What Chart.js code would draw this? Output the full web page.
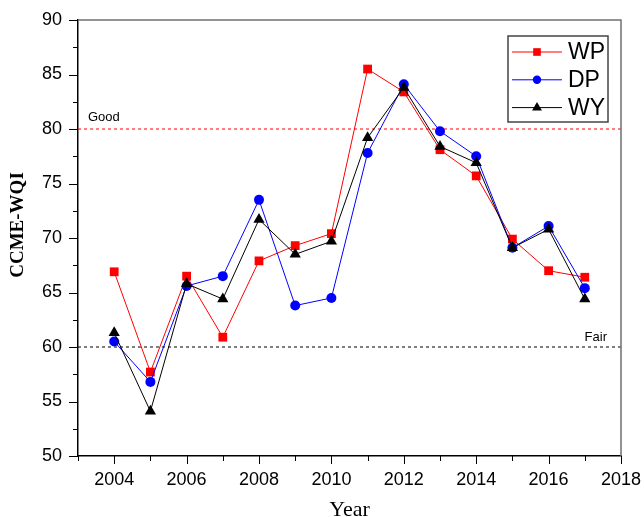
<!DOCTYPE html>
<html>
<head>
<meta charset="utf-8">
<script src="https://cdn.jsdelivr.net/npm/chart.js@4.4.0/dist/chart.umd.min.js"></script>
<style>
  html, body { margin: 0; padding: 0; background: #fff; }
</style>
</head>
<body>
<canvas id="wqiChart" width="644" height="517"></canvas>
<script>
// CCME-WQI by year for the three stations
const years = [2004, 2005, 2006, 2007, 2008, 2009, 2010, 2011, 2012, 2013, 2014, 2015, 2016, 2017];
const wp = [66.9, 57.7, 66.5, 60.9, 67.9, 69.3, 70.4, 85.5, 83.4, 78.1, 75.7, 69.9, 67.0, 66.4];
const dp = [60.5, 56.8, 65.6, 66.5, 73.5, 63.8, 64.5, 77.8, 84.1, 79.8, 77.5, 69.1, 71.1, 65.4];
const wy = [61.3, 54.1, 65.8, 64.4, 71.7, 68.5, 69.7, 79.2, 83.8, 78.4, 76.9, 69.1, 70.8, 64.4];

// quality class thresholds
const goodLevel = 80;
const fairLevel = 60;
const xRange = [2003, 2018];
const yRange = [50, 90];

const pts = arr => arr.map((v, i) => ({ x: years[i], y: v }));
const level = v => xRange.map(x => ({ x, y: v }));

const series = [
  { label: "WP", data: pts(wp), color: "#ff0000", pointStyle: "rect", pointRadius: 6.2, order: 3 },
  { label: "DP", data: pts(dp), color: "#0000ff", pointStyle: "circle", pointRadius: 5, order: 2 },
  { label: "WY", data: pts(wy), color: "#000000", pointStyle: "triangle", pointRadius: 6.5, order: 1 }
];

// small tick marks outside the axes, long ones for labelled values
const axisTicks = {
  id: "axisTicks",
  afterDraw(chart) {
    const { ctx, chartArea: a, scales: { x, y } } = chart;
    ctx.save();
    ctx.strokeStyle = "#000";
    ctx.lineWidth = 1;
    ctx.beginPath();
    x.ticks.forEach(t => {
      const px = Math.round(x.getPixelForValue(t.value)) + 0.5;
      const len = t.value % 2 === 0 ? 8 : 5;
      ctx.moveTo(px, a.bottom);
      ctx.lineTo(px, a.bottom + len);
    });
    y.ticks.forEach(t => {
      const py = Math.round(y.getPixelForValue(t.value)) + 0.5;
      const len = t.value % 5 === 0 ? 9 : 5;
      ctx.moveTo(a.left, py);
      ctx.lineTo(a.left - len, py);
    });
    ctx.stroke();

    // grey frame on the top and right
    ctx.strokeStyle = "#707070";
    ctx.lineWidth = 1.5;
    ctx.beginPath();
    ctx.moveTo(a.left, a.top);
    ctx.lineTo(a.right, a.top);
    ctx.lineTo(a.right, a.bottom);
    ctx.stroke();
    ctx.restore();
  }
};

const labelsAndTitles = {
  id: "labelsAndTitles",
  afterDraw(chart) {
    const { ctx, chartArea: a, scales: { y } } = chart;
    ctx.save();
    ctx.fillStyle = "#000";
    ctx.font = "13px 'Liberation Sans', Arial, sans-serif";
    ctx.textBaseline = "middle";
    ctx.textAlign = "left";
    ctx.fillText("Good", a.left + 10, y.getPixelForValue(goodLevel) - 12);
    ctx.textAlign = "right";
    ctx.fillText("Fair", a.right - 14, y.getPixelForValue(fairLevel) - 10);

    ctx.font = "22px 'Liberation Serif', 'Times New Roman', serif";
    ctx.textAlign = "center";
    ctx.fillText("Year", (a.left + a.right) / 2, 510);

    ctx.translate(18, 225);
    ctx.rotate(-Math.PI / 2);
    ctx.font = "bold 19px 'Liberation Serif', 'Times New Roman', serif";
    ctx.fillText("CCME-WQI", 0, 0);
    ctx.restore();
  }
};

const boxLegend = {
  id: "boxLegend",
  afterDraw(chart) {
    const { ctx, chartArea: a } = chart;
    const bx = a.right - 113, by = a.top + 16, bw = 100, bh = 86;
    ctx.save();
    ctx.fillStyle = "#fff";
    ctx.fillRect(bx, by, bw, bh);
    ctx.strokeStyle = "#444";
    ctx.lineWidth = 1.5;
    ctx.strokeRect(bx, by, bw, bh);
    ctx.font = "23px 'Liberation Sans', Arial, sans-serif";
    ctx.textBaseline = "middle";
    ctx.textAlign = "left";
    series.forEach((s, i) => {
      const cy = by + 16 + i * 27.8;
      ctx.strokeStyle = s.color;
      ctx.fillStyle = s.color;
      ctx.lineWidth = 1;
      ctx.beginPath();
      ctx.moveTo(bx + 4, cy);
      ctx.lineTo(bx + 54, cy);
      ctx.stroke();
      Chart.helpers.drawPoint(ctx, { pointStyle: s.pointStyle, radius: s.pointRadius - 0.8, rotation: 0, borderWidth: 0 }, bx + 29, cy);
      ctx.fillStyle = "#000";
      ctx.fillText(s.label, bx + 60, cy + 1);
    });
    ctx.restore();
  }
};

// keep the plot box fixed regardless of label overhang
const noOverhang = s => {
  s.paddingLeft = 0;
  s.paddingRight = 0;
  s.paddingTop = 0;
  s.paddingBottom = 0;
};

new Chart(document.getElementById("wqiChart"), {
  type: "line",
  data: {
    datasets: [
      ...series.map(s => ({
        label: s.label,
        data: s.data,
        order: s.order,
        borderColor: s.color,
        backgroundColor: s.color,
        borderWidth: 1,
        pointStyle: s.pointStyle,
        pointRadius: s.pointRadius,
        pointBorderWidth: 0,
        tension: 0
      })),
      {
        label: "Good",
        data: level(goodLevel),
        order: 10,
        borderColor: "#ff0000",
        borderWidth: 1,
        borderDash: [3, 3],
        pointRadius: 0
      },
      {
        label: "Fair",
        data: level(fairLevel),
        order: 10,
        borderColor: "#000000",
        borderWidth: 1,
        borderDash: [3, 3],
        pointRadius: 0
      }
    ]
  },
  options: {
    responsive: false,
    animation: false,
    layout: { padding: { top: 20, right: 23, left: 0, bottom: 0 } },
    plugins: {
      legend: { display: false },
      tooltip: { enabled: false }
    },
    scales: {
      x: {
        type: "linear",
        min: xRange[0],
        max: xRange[1],
        afterFit: s => { s.height = 61; noOverhang(s); },
        grid: { display: false, drawTicks: false },
        border: { display: true, color: "#000", width: 1.5 },
        ticks: {
          stepSize: 1,
          autoSkip: false,
          maxRotation: 0,
          padding: 13,
          color: "#000",
          font: { family: "'Liberation Sans', Arial, sans-serif", size: 18 },
          callback: v => (v % 2 === 0 ? String(v) : "")
        }
      },
      y: {
        min: yRange[0],
        max: yRange[1],
        afterFit: s => { s.width = 78; noOverhang(s); },
        grid: { display: false, drawTicks: false },
        border: { display: true, color: "#000", width: 1.5 },
        ticks: {
          stepSize: 2.5,
          autoSkip: false,
          padding: 16,
          color: "#000",
          font: { family: "'Liberation Sans', Arial, sans-serif", size: 18 },
          callback: v => (v % 5 === 0 ? String(v) : "")
        }
      }
    }
  },
  plugins: [axisTicks, labelsAndTitles, boxLegend]
});
</script>
</body>
</html>
